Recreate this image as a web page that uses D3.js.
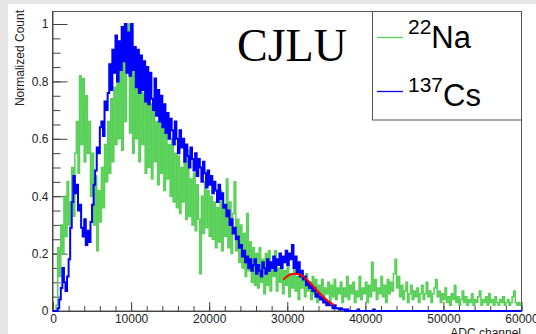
<!DOCTYPE html>
<html><head><meta charset="utf-8">
<script src="https://cdn.jsdelivr.net/npm/d3@7"></script>
<style>
html,body{margin:0;padding:0;background:#fff;}
svg{display:block;}
</style></head>
<body>
<script>
// ---------------- data ----------------
const binWidth = 200;           // ADC channels per bin
const xTicks = [0,10000,20000,30000,40000,50000,60000];
const yTicks = [0,0.2,0.4,0.6,0.8,1];
const seriesNames = ["22Na","137Cs"];

const na22 = [
0,0,0.02,0.22,0.12,0.30,0.20,0.40,0.26,0.45,
0.30,0.38,0.50,0.33,0.55,0.66,0.48,0.82,0.58,0.81,
0.52,0.75,0.55,0.66,0.40,0.55,0.30,0.47,0.21,0.42,
0.31,0.50,0.36,0.58,0.45,0.66,0.48,0.74,0.52,0.78,
0.58,0.84,0.60,0.88,0.56,0.93,0.66,0.90,1.00,0.62,
0.95,0.55,0.88,0.60,0.84,0.52,0.86,0.58,0.76,0.48,
0.80,0.50,0.72,0.46,0.70,0.52,0.66,0.44,0.72,0.48,
0.64,0.42,0.66,0.46,0.58,0.40,0.60,0.38,0.55,0.36,
0.54,0.34,0.50,0.38,0.52,0.32,0.56,0.33,0.46,0.30,
0.48,0.28,0.44,0.32,0.13,0.40,0.27,0.45,0.29,0.42,
0.26,0.40,0.25,0.38,0.22,0.36,0.24,0.42,0.21,0.37,
0.26,0.46,0.22,0.38,0.20,0.34,0.45,0.21,0.32,0.17,
0.30,0.15,0.27,0.12,0.34,0.14,0.24,0.10,0.22,0.09,
0.20,0.08,0.22,0.10,0.18,0.06,0.20,0.09,0.21,0.07,
0.16,0.12,0.21,0.07,0.15,0.10,0.18,0.06,0.14,0.09,
0.16,0.05,0.13,0.08,0.15,0.07,0.12,0.04,0.14,0.08,
0.11,0.05,0.13,0.07,0.10,0.04,0.12,0.06,0.11,0.03,
0.09,0.05,0.11,0.04,0.08,0.06,0.10,0.03,0.09,0.05,
0.11,0.04,0.08,0.06,0.10,0.03,0.08,0.05,0.12,0.04,
0.09,0.06,0.10,0.03,0.07,0.05,0.12,0.04,0.08,0.06,
0.10,0.03,0.09,0.05,0.17,0.07,0.11,0.04,0.08,0.06,
0.12,0.05,0.09,0.03,0.11,0.06,0.10,0.07,0.13,0.18,
0.08,0.12,0.05,0.09,0.04,0.07,0.10,0.03,0.06,0.09,
0.04,0.07,0.05,0.08,0.03,0.06,0.09,0.04,0.06,0.10,
0.05,0.07,0.03,0.06,0.08,0.11,0.05,0.07,0.03,0.06,
0.04,0.08,0.03,0.05,0.02,0.06,0.04,0.09,0.03,0.05,
0.02,0.04,0.07,0.03,0.05,0.02,0.04,0.03,0.06,0.02,
0.04,0.03,0.05,0.07,0.02,0.04,0.03,0.05,0.02,0.06,
0.03,0.04,0.02,0.05,0.03,0.02,0.04,0.03,0.05,0.02,
0.03,0.04,0.02,0.03,0.05,0.07,0.03,0.02,0.03,0.02
];

const cs137 = [
0,0,0,0.01,0.04,0.08,0.15,0.10,0.07,0.12,
0.18,0.29,0.38,0.47,0.41,0.44,0.35,0.37,0.29,0.26,
0.32,0.23,0.28,0.24,0.31,0.37,0.44,0.49,0.57,0.55,
0.64,0.66,0.61,0.73,0.70,0.76,0.86,0.77,0.91,0.83,
0.96,0.80,0.94,0.84,0.99,0.87,1.00,0.83,0.97,0.82,
1.00,0.84,0.92,0.78,0.91,0.76,0.89,0.77,0.87,0.73,
0.85,0.72,0.83,0.74,0.70,0.81,0.68,0.77,0.66,0.75,
0.64,0.72,0.62,0.69,0.60,0.67,0.63,0.58,0.66,0.60,
0.55,0.63,0.57,0.60,0.52,0.58,0.54,0.50,0.57,0.53,
0.49,0.55,0.47,0.53,0.50,0.45,0.52,0.48,0.43,0.49,
0.44,0.47,0.41,0.45,0.42,0.38,0.44,0.39,0.41,0.36,
0.37,0.33,0.35,0.30,0.32,0.27,0.29,0.25,0.26,0.22,
0.23,0.19,0.21,0.17,0.19,0.15,0.18,0.14,0.16,0.18,
0.13,0.16,0.14,0.12,0.17,0.15,0.13,0.18,0.14,0.17,
0.15,0.19,0.14,0.18,0.16,0.20,0.15,0.19,0.17,0.21,
0.16,0.20,0.18,0.23,0.15,0.19,0.13,0.17,0.12,0.14,
0.11,0.12,0.09,0.10,0.08,0.09,0.07,0.08,0.05,0.06,
0.05,0.04,0.05,0.03,0.04,0.02,0.03,0.02,0.02,0.01,
0.02,0.01,0.01,0.005,0.01,0.005,0.005,0,0.005,0,
0,0,0,0,0,0.005,0,0,0,0,
0,0,0,0,0,0.005,0,0,0,0,
0,0,0,0,0,0,0,0,0,0,
0,0,0,0,0,0,0,0,0,0,
0,0,0,0,0,0,0,0,0,0,
0,0,0,0,0,0,0,0,0,0,
0,0,0,0,0,0,0,0,0,0,
0,0,0,0,0,0,0,0,0,0,
0,0,0,0,0,0,0,0,0,0,
0,0,0,0,0,0,0,0,0,0,
0,0,0,0,0,0,0,0,0,0
];

// Gaussian fit curve (channel, value)
const fitX = [29500,30000,30500,31000,31500,32000,32500,33000,33500,34000,34500,35000,35500,36000];
const fitY = [0.110,0.121,0.128,0.130,0.128,0.121,0.110,0.096,0.081,0.066,0.052,0.039,0.029,0.020];

// ---------------- drawing ----------------
const SANS = "'Liberation Sans', Arial, Helvetica, sans-serif";
const SERIF = "'Liberation Serif', 'Times New Roman', serif";
const W = 536, H = 334;
const svg = d3.select("body").append("svg").attr("width", W).attr("height", H);

svg.append("rect").attr("width", W).attr("height", H).attr("fill", "#e6e6e6");
svg.append("rect").attr("x", 8).attr("y", 4).attr("width", W - 8).attr("height", H - 4).attr("fill", "#ffffff");

const fx0 = 52.5, fx1 = 521.5, fy0 = 11.5, fy1 = 311;
const x = d3.scaleLinear().domain([0, 60000]).range([fx0 + 0.5, fx1]);
const y = d3.scaleLinear().domain([0, 1.0436]).range([fy1, fy0]);

svg.append("rect").attr("x", fx0).attr("y", fy0).attr("width", fx1 - fx0).attr("height", fy1 - fy0)
  .attr("fill", "none").attr("stroke", "#555").attr("stroke-width", 1);

const gx = svg.append("g").attr("transform", `translate(0,${fy1})`);
gx.call(d3.axisBottom(x).tickValues(d3.range(0, 60001, 2000)).tickSize(-5).tickSizeOuter(0).tickFormat(""));
gx.selectAll(".tick line").attr("stroke", "#444");
gx.select(".domain").attr("stroke", "#444");
const gx2 = svg.append("g").attr("transform", `translate(0,${fy1})`);
gx2.call(d3.axisBottom(x).tickValues(xTicks).tickSize(-9).tickSizeOuter(0).tickPadding(3).tickFormat(d3.format("d")));
gx2.select(".domain").remove();
gx2.selectAll(".tick line").attr("stroke", "#444");
gx2.selectAll(".tick text").attr("font-size", 12).attr("fill", "#222").style("font-family", SANS);

const gy = svg.append("g").attr("transform", `translate(${fx0},0)`);
gy.call(d3.axisLeft(y).tickValues(d3.range(0, 21).map(i => i * 0.05)).tickSize(-8).tickSizeOuter(0).tickFormat(""));
gy.selectAll(".tick line").attr("stroke", "#444");
gy.select(".domain").attr("stroke", "#444");
const gy2 = svg.append("g").attr("transform", `translate(${fx0},0)`);
gy2.call(d3.axisLeft(y).tickValues(yTicks).tickSize(-15).tickSizeOuter(0).tickPadding(4).tickFormat(d => d3.format("~g")(d)));
gy2.select(".domain").remove();
gy2.selectAll(".tick line").attr("stroke", "#444");
gy2.selectAll(".tick text").attr("font-size", 12).attr("fill", "#222").style("font-family", SANS);

svg.append("text").attr("x", 521).attr("y", 337).attr("text-anchor", "end").style("font-family", SANS)
  .attr("font-size", 12).attr("fill", "#222").text("ADC channel");
svg.append("text").attr("transform", "translate(24,10) rotate(-90)").attr("text-anchor", "end").style("font-family", SANS)
  .attr("font-size", 12).attr("fill", "#222").text("Normalized Count");

svg.append("clipPath").attr("id", "clip").append("rect")
  .attr("x", fx0).attr("y", fy0).attr("width", fx1 - fx0).attr("height", fy1 - fy0 + 2);
const plot = svg.append("g").attr("clip-path", "url(#clip)");

function histPoints(vals) {
  const pts = vals.map((v, i) => [i * binWidth, v]);
  pts.push([vals.length * binWidth, vals[vals.length - 1]]);
  return pts;
}
const stepLine = d3.line().x(d => x(d[0])).y(d => y(d[1])).curve(d3.curveStepAfter);

plot.append("path").attr("d", stepLine(histPoints(na22)))
  .attr("fill", "none").attr("stroke", "#55d055").attr("stroke-width", 1.5);
plot.append("path").attr("d", stepLine(histPoints(cs137)))
  .attr("fill", "none").attr("stroke", "#0000ff").attr("stroke-width", 2);

const fitLine = d3.line().x((d, i) => x(fitX[i])).y(d => y(d)).curve(d3.curveMonotoneX);
plot.append("path").attr("d", fitLine(fitY))
  .attr("fill", "none").attr("stroke", "#ff0000").attr("stroke-width", 2);

svg.append("text").attr("x", 237).attr("y", 61).style("font-family", SERIF)
  .attr("font-size", 46).attr("fill", "#000").text("CJLU");

svg.append("rect").attr("x", 372.5).attr("y", fy0).attr("width", fx1 - 372.5).attr("height", 120 - fy0)
  .attr("fill", "#fff").attr("stroke", "#555").attr("stroke-width", 1);
const legColors = ["#55d055", "#0000ff"];
const legSup = ["22", "137"];
const legMain = ["Na", "Cs"];
const legY = [37.5, 91.5];
const legBase = [48, 106];
seriesNames.forEach((name, i) => {
  svg.append("line").attr("x1", 377).attr("x2", 403).attr("y1", legY[i]).attr("y2", legY[i])
    .attr("stroke", legColors[i]).attr("stroke-width", 1.3);
  const t = svg.append("text").attr("x", 408).attr("y", legBase[i]).style("font-family", SANS)
    .attr("font-size", 31).attr("fill", "#000");
  t.append("tspan").attr("font-size", 21).attr("dy", -14).text(legSup[i]);
  t.append("tspan").attr("dy", 14).text(legMain[i]);
});
</script>
</body></html>
